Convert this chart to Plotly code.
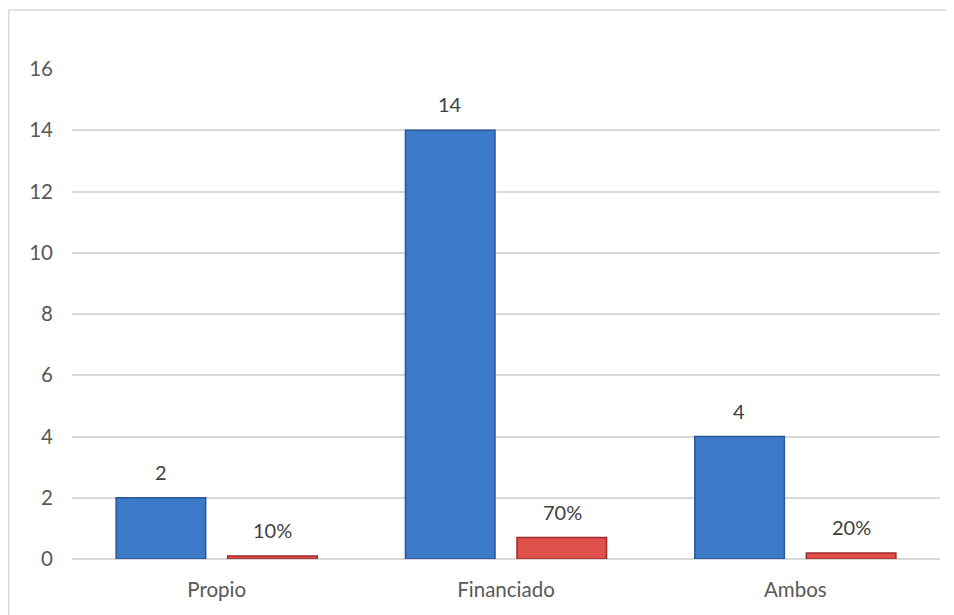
import plotly.graph_objects as go

categories = ["Propio", "Financiado", "Ambos"]
counts = [2, 14, 4]
shares = [0.10, 0.70, 0.20]
share_labels = ["10%", "70%", "20%"]
y_ticks = [0, 2, 4, 6, 8, 10, 12, 14, 16]

FONT = "Lato, Open Sans, sans-serif"
fig = go.Figure()
fig.add_trace(go.Bar(
    x=categories, y=counts, name="Cantidad",
    marker=dict(color="#3D79C9", line=dict(color="#2A5796", width=1.5)),
))
fig.add_trace(go.Bar(
    x=categories, y=shares, name="Porcentaje",
    marker=dict(color="#E0504D", line=dict(color="#9E2B2A", width=1.5)),
))

label_col = "#404040"
for c, v in zip(categories, counts):
    fig.add_annotation(x=c, y=v, xref="x", yref="y", text=str(v), showarrow=False,
                       xshift=-56, yshift=12, yanchor="bottom",
                       font=dict(family=FONT, size=20, color=label_col))
for c, v, t in zip(categories, shares, share_labels):
    fig.add_annotation(x=c, y=v, xref="x", yref="y", text=t, showarrow=False,
                       xshift=56, yshift=12, yanchor="bottom",
                       font=dict(family=FONT, size=20, color=label_col))

# outer chart border
fig.add_shape(type="rect", xref="paper", yref="paper",
              x0=(8.8 - 72) / 868, x1=(970 - 72) / 868,
              y0=(559 - 630) / 490, y1=(559 - 10) / 490,
              line=dict(color="#D9D9D9", width=1.5), fillcolor="rgba(0,0,0,0)", layer="below")

fig.update_layout(
    width=954, height=615,
    margin=dict(l=64, r=22, t=61, b=64),
    paper_bgcolor="white", plot_bgcolor="white",
    barmode="group", bargap=0.229, bargroupgap=0.197,
    showlegend=False,
    font=dict(family=FONT, size=20.5, color="#595959"),
)
fig.update_yaxes(range=[0, 16], tickvals=y_ticks, showgrid=True, gridcolor="#D9D9D9", gridwidth=1.5,
                 zeroline=True, zerolinecolor="#D9D9D9", zerolinewidth=1.5, showline=False,
                 ticks="", ticklabelstandoff=18, fixedrange=True)
fig.update_xaxes(showline=False, ticks="", ticklabelstandoff=16, showgrid=False)

fig.write_html("out.html")
